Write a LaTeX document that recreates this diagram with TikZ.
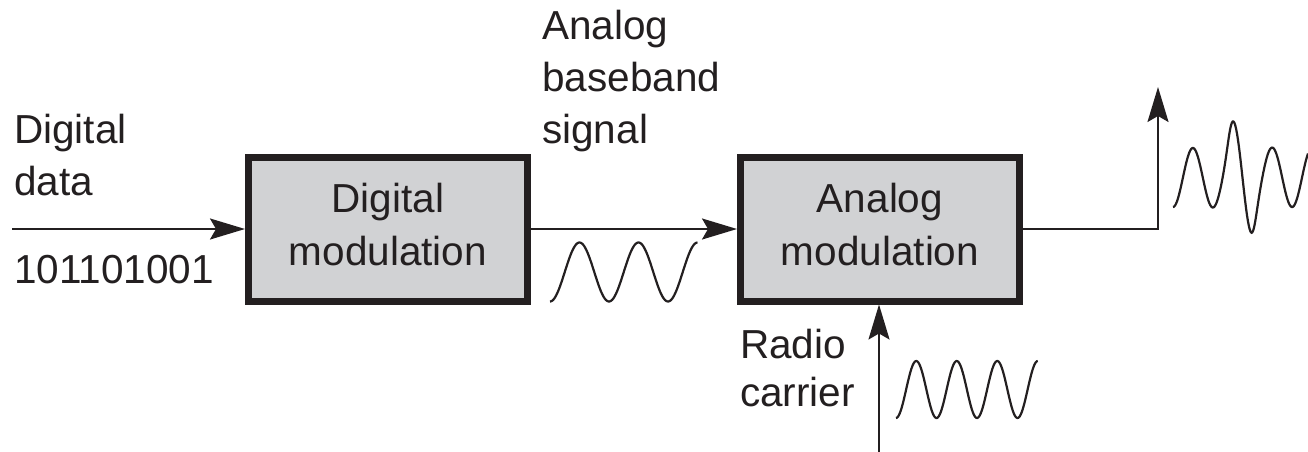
\documentclass[tikz,border=0pt]{standalone}
\usepackage{fontspec}
\setmainfont{Liberation Sans}
\usetikzlibrary{arrows.meta}
\definecolor{ink}{RGB}{35,31,32}
\definecolor{boxfill}{RGB}{209,210,212}
\begin{document}
\begin{tikzpicture}[x=1pt,y=-1pt,
  txt/.style={inner sep=0pt, text=ink, align=left, font=\fontsize{40.5}{52}\selectfont},
  modbox/.style={draw=ink, fill=boxfill, line width=7pt, minimum width=279pt, minimum height=144pt,
     inner sep=0pt, text=ink, align=center, text depth=9pt, font=\fontsize{40.5}{53}\selectfont},
  conn/.style={draw=ink, line width=2pt, -{Stealth[length=35pt,width=21pt,inset=6pt]}},
  wave/.style={draw=ink, line width=2.2pt}]
\useasboundingbox (0,0) rectangle (1308,452);
% blocks
\node[modbox] (dm) at (388,229) {Digital\\modulation};
\node[modbox] (am) at (880,229) {Analog\\modulation};
% labels
\node[txt, anchor=north west] (ldig) at (14,114) {Digital\\data};
\node[txt, anchor=base west] (lbits) at (14,283) {101101001};
\node[txt, anchor=north west] (lbase) at (542,10) {Analog\\baseband\\signal};
\node[txt, anchor=north west, font=\fontsize{40.5}{48}\selectfont] (lrad) at (740,329) {Radio\\carrier};
% connectors
\coordinate (in) at (12,229);
\coordinate (out) at (1158,87);
\coordinate (carr) at (879,452);
\draw[conn] (in) -- (dm.west);
\draw[conn] (dm.east) -- (am.west);
\draw[conn] (am.east) -| (out);
\draw[conn] (carr) -- (am.south -| carr);
% waves
\draw[wave] plot[domain=550:697.5, samples=160, smooth] (\x, {272 + 29.5*cos(360/59*(\x-550))});
\draw[wave] plot[domain=896:1037.75, samples=160, smooth] (\x, {389.5 + 28.5*cos(360/40.5*(\x-896))});
\draw[wave] plot[domain=1173:1308, samples=200, smooth] (\x, {177.5 + (29.5 + 28/(1+((\x-1242)*(\x-1242)/225)*((\x-1242)*(\x-1242)/225)*((\x-1242)*(\x-1242)/225)))*cos(360/39.7*(\x-1173))});
\end{tikzpicture}
\end{document}
